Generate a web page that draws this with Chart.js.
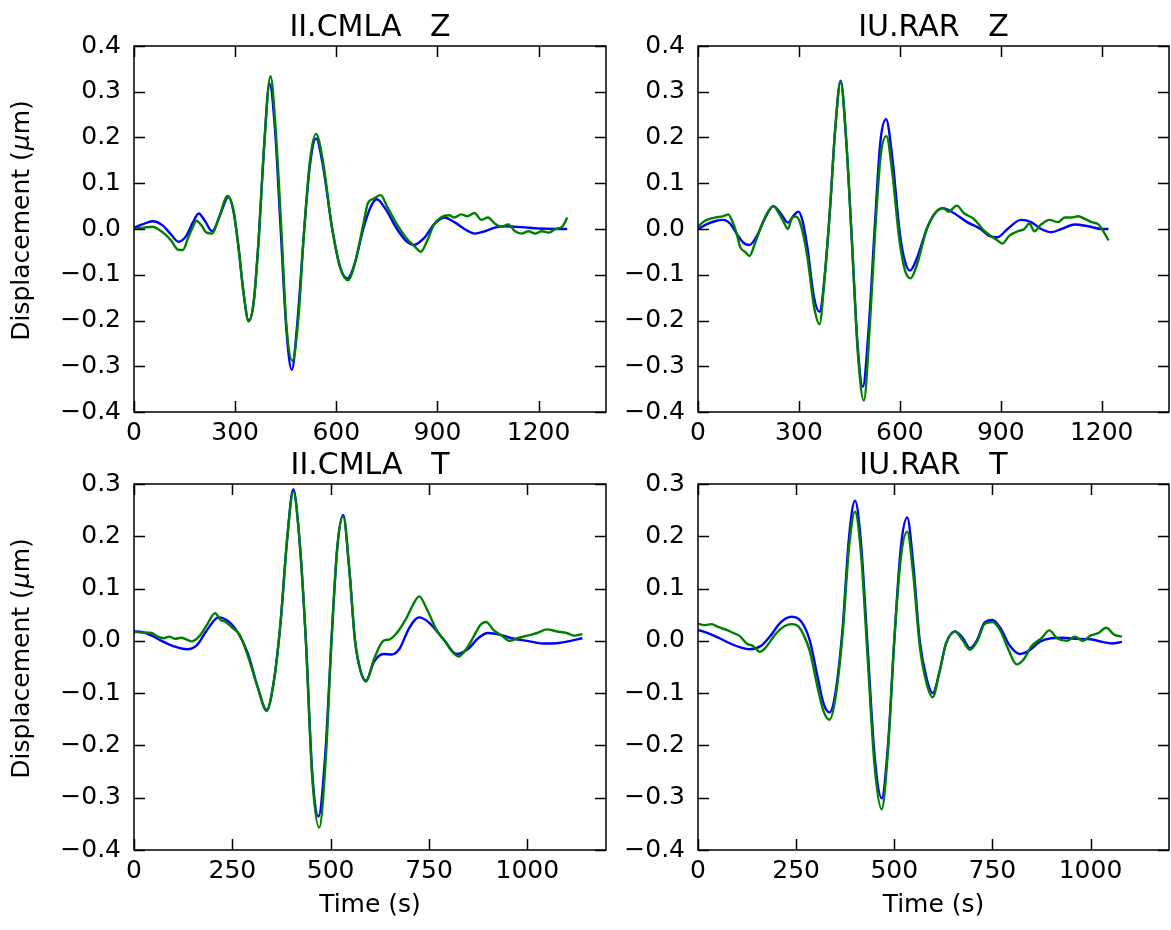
<!DOCTYPE html>
<html><head><meta charset="utf-8">
<script src="https://cdn.jsdelivr.net/npm/chart.js@4"></script>
<style>
html,body{margin:0;padding:0;background:#fff;}
#wrap{position:relative;width:1171px;height:930px;overflow:hidden;background:#fff;}
canvas{position:absolute;}
</style></head><body>
<div id="wrap">
<canvas id="c1" width="640" height="470" style="left:0;top:0"></canvas>
<canvas id="c2" width="581" height="470" style="left:590px;top:0"></canvas>
<canvas id="c3" width="640" height="490" style="left:0;top:440px"></canvas>
<canvas id="c4" width="581" height="490" style="left:590px;top:440px"></canvas>
</div>
<script>
// ---------- tick labels & texts ----------
const xTicksTop = [0, 300, 600, 900, 1200];
const xTicksBottom = [0, 250, 500, 750, 1000];
const yTicksTop = [-0.4, -0.3, -0.2, -0.1, 0.0, 0.1, 0.2, 0.3, 0.4];
const yTicksBottom = [-0.4, -0.3, -0.2, -0.1, 0.0, 0.1, 0.2, 0.3];
const titles = ['II.CMLA   Z', 'IU.RAR   Z', 'II.CMLA   T', 'IU.RAR   T'];
const yLabelParts = ['Displacement (', '\u03bc', 'm)'];
const xLabel = 'Time (s)';

// ---------- II.CMLA Z ----------
const cmlaZ_synT = [0,25,55,85,110,132,155,175,192,210,232,255,280,295,310,325,340,355,370,385,402,418,435,452,468,485,505,522,540,560,588,612,633,655,680,700,720,745,780,810,830,860,890,920,950,980,1010,1040,1070,1100,1150,1200,1250,1285];
const cmlaZ_syn  = [0.003,0.01,0.017,0.008,-0.012,-0.028,-0.015,0.015,0.034,0.018,-0.005,0.03,0.07,0.04,-0.04,-0.14,-0.2,-0.16,-0.02,0.17,0.318,0.22,0.0,-0.22,-0.308,-0.2,0.0,0.14,0.198,0.14,0.0,-0.085,-0.108,-0.075,0.0,0.045,0.065,0.045,0.0,-0.028,-0.035,-0.02,0.01,0.025,0.015,0.0,-0.01,-0.005,0.003,0.006,0.004,0.001,0.0,0.0];
const cmlaZ_obsT = [0,30,55,75,90,110,130,145,160,175,185,200,215,232,250,278,295,310,325,340,355,370,385,405,420,437,452,470,487,505,522,540,560,588,612,635,655,680,694,710,732,750,780,810,835,850,870,890,910,935,950,970,990,1010,1030,1050,1070,1090,1110,1130,1150,1170,1190,1210,1230,1250,1270,1285];
const cmlaZ_obs  = [0.0,0.003,0.005,-0.002,-0.01,-0.025,-0.045,-0.046,-0.02,0.005,0.018,0.008,-0.008,-0.01,0.02,0.072,0.04,-0.04,-0.14,-0.202,-0.16,-0.02,0.17,0.334,0.22,0.0,-0.21,-0.288,-0.2,0.0,0.15,0.208,0.15,0.0,-0.085,-0.112,-0.075,0.01,0.057,0.066,0.074,0.05,0.01,-0.022,-0.04,-0.05,-0.025,0.01,0.025,0.03,0.025,0.032,0.028,0.035,0.02,0.025,0.012,0.005,0.01,-0.005,-0.01,-0.005,-0.01,-0.005,-0.008,0.0,0.005,0.025];

// ---------- IU.RAR Z ----------
const rarZ_synT = [0,25,50,75,95,115,135,153,175,200,224,245,267,285,298,310,325,345,361,377,392,408,424,440,457,475,490,507,525,542,559,577,600,615,630,650,680,705,729,760,800,840,865,890,920,960,990,1020,1050,1080,1120,1160,1200,1220];
const rarZ_syn  = [0.0,0.01,0.017,0.02,0.012,-0.01,-0.03,-0.035,-0.015,0.025,0.05,0.035,0.014,0.03,0.038,0.02,-0.04,-0.15,-0.181,-0.1,0.04,0.22,0.324,0.2,-0.02,-0.26,-0.345,-0.22,0.0,0.19,0.24,0.16,-0.01,-0.07,-0.091,-0.065,0.0,0.035,0.045,0.035,0.015,0.0,-0.015,-0.018,0.0,0.02,0.015,0.0,-0.007,0.0,0.01,0.006,0.0,0.0];
const rarZ_obsT = [0,15,26,50,75,90,100,115,125,140,153,170,190,210,224,240,255,267,280,291,300,312,325,345,361,377,392,408,424,440,457,475,493,510,527,543,560,578,598,615,632,650,680,705,729,745,769,790,818,835,848,870,890,905,925,950,970,985,1000,1020,1045,1070,1090,1110,1130,1150,1170,1190,1205,1220];
const rarZ_obs  = [0.005,0.015,0.02,0.025,0.028,0.032,0.02,-0.01,-0.039,-0.05,-0.059,-0.03,0.01,0.04,0.05,0.035,0.015,0.0,0.025,0.027,0.02,-0.01,-0.06,-0.17,-0.208,-0.1,0.04,0.22,0.322,0.2,-0.02,-0.27,-0.375,-0.22,0.0,0.16,0.203,0.12,-0.02,-0.09,-0.108,-0.08,0.0,0.035,0.046,0.038,0.051,0.035,0.023,0.01,-0.002,-0.015,-0.025,-0.032,-0.015,-0.005,0.0,0.012,-0.005,0.01,0.02,0.015,0.025,0.025,0.028,0.022,0.015,0.01,-0.005,-0.025];

// ---------- II.CMLA T ----------
const cmlaT_synT = [0,20,45,70,100,134,160,185,215,244,265,290,315,337,355,372,390,405,420,437,453,469,486,502,517,532,547,562,577,590,610,635,655,675,700,725,750,790,820,850,875,900,930,960,1000,1040,1080,1110,1140];
const cmlaT_syn  = [0.018,0.017,0.01,0.0,-0.01,-0.016,-0.008,0.02,0.045,0.035,0.015,-0.025,-0.09,-0.132,-0.08,0.03,0.2,0.29,0.2,0.0,-0.25,-0.336,-0.22,0.0,0.18,0.241,0.14,0.0,-0.06,-0.076,-0.04,-0.025,-0.026,-0.015,0.025,0.045,0.035,0.0,-0.025,-0.015,0.005,0.015,0.012,0.005,0.0,-0.005,-0.004,0.0,0.005];
const cmlaT_obsT = [0,20,45,60,75,90,105,120,135,147,165,185,206,220,231,250,269,290,315,337,355,372,390,405,420,437,453,471,488,502,517,532,547,562,577,590,610,634,650,665,690,710,725,745,770,790,808,825,845,865,880,895,915,935,955,975,1000,1025,1050,1075,1100,1120,1140];
const cmlaT_obs  = [0.017,0.016,0.015,0.008,0.005,0.008,0.004,0.006,0.002,-0.001,0.008,0.03,0.053,0.04,0.037,0.025,0.011,-0.03,-0.09,-0.134,-0.08,0.03,0.2,0.285,0.2,0.0,-0.26,-0.357,-0.22,0.0,0.18,0.238,0.14,0.0,-0.06,-0.078,-0.035,0.0,0.003,0.012,0.04,0.07,0.085,0.06,0.02,0.0,-0.02,-0.03,-0.015,0.01,0.03,0.036,0.02,0.01,0.0,0.005,0.01,0.015,0.022,0.018,0.015,0.01,0.013];

// ---------- IU.RAR T ----------
const rarT_synT = [0,25,55,85,110,132,160,185,210,239,265,285,305,320,335,350,368,385,400,415,432,450,468,484,500,517,533,548,565,582,598,615,632,655,675,693,710,730,750,770,795,820,845,870,900,930,960,1000,1030,1055,1080];
const rarT_syn  = [0.021,0.015,0.005,-0.006,-0.013,-0.016,-0.01,0.01,0.035,0.046,0.035,0.0,-0.07,-0.12,-0.137,-0.1,0.02,0.2,0.268,0.19,-0.01,-0.22,-0.301,-0.2,0.0,0.18,0.236,0.15,0.0,-0.07,-0.1,-0.06,-0.005,0.018,0.005,-0.014,0.0,0.035,0.04,0.025,-0.01,-0.025,-0.018,-0.002,0.005,0.006,0.004,0.003,-0.002,-0.005,-0.002];
const rarT_obsT = [0,15,35,50,73,90,105,124,140,158,170,185,200,220,239,255,270,285,305,320,335,350,368,385,400,415,432,450,468,484,500,517,533,548,565,582,598,615,632,655,675,693,712,730,750,770,790,812,830,850,875,895,915,940,960,980,1000,1020,1040,1060,1080];
const rarT_obs  = [0.033,0.03,0.032,0.027,0.021,0.015,0.01,-0.005,-0.01,-0.021,-0.015,0.0,0.015,0.028,0.032,0.028,0.01,-0.02,-0.09,-0.135,-0.151,-0.11,0.01,0.18,0.247,0.17,-0.03,-0.24,-0.322,-0.21,0.0,0.16,0.209,0.13,-0.01,-0.08,-0.108,-0.06,-0.005,0.018,0.0,-0.017,0.0,0.032,0.036,0.02,-0.015,-0.045,-0.035,-0.01,0.005,0.02,0.005,0.0,0.008,0.0,0.01,0.015,0.025,0.012,0.008];

// ---------- drawing ----------
Chart.defaults.font.family = "'DejaVu Sans', sans-serif";
Chart.defaults.color = '#000';
const FONT = "'DejaVu Sans', sans-serif";

const TICK_LEN = 11;
const framePlugin = {
  id: 'frame',
  afterDraw(chart) {
    const {ctx, chartArea: a, scales} = chart;
    const x = scales.x, y = scales.y;
    ctx.save();
    ctx.strokeStyle = '#000';
    ctx.lineWidth = 1.5;
    ctx.beginPath();
    x.ticks.forEach(t => {
      const p = Math.round(x.getPixelForValue(t.value)) + 0.5;
      ctx.moveTo(p, a.bottom); ctx.lineTo(p, a.bottom - TICK_LEN);
      ctx.moveTo(p, a.top); ctx.lineTo(p, a.top + TICK_LEN);
    });
    y.ticks.forEach(t => {
      const p = Math.round(y.getPixelForValue(t.value)) + 0.5;
      ctx.moveTo(a.left, p); ctx.lineTo(a.left + TICK_LEN, p);
      ctx.moveTo(a.right, p); ctx.lineTo(a.right - TICK_LEN, p);
    });
    ctx.stroke();
    ctx.strokeRect(a.left, a.top, a.right - a.left, a.bottom - a.top);

    // y-axis label with italic mu, as in the original mathtext
    const yl = chart.options.plugins.frame && chart.options.plugins.frame.yLabel;
    if (yl) {
      const fonts = ['25px ' + FONT, 'italic 25px ' + FONT, '25px ' + FONT];
      let total = 0;
      const widths = yl.map((s, i) => { ctx.font = fonts[i]; const w = ctx.measureText(s).width; total += w; return w; });
      ctx.translate(22, (a.top + a.bottom) / 2 - 8);
      ctx.rotate(-Math.PI / 2);
      ctx.fillStyle = '#000';
      ctx.textBaseline = 'middle';
      ctx.textAlign = 'left';
      let pos = -total / 2;
      yl.forEach((s, i) => { ctx.font = fonts[i]; ctx.fillText(s, pos, 0); pos += widths[i] + (i === 0 ? 1 : 0); });
    }
    ctx.restore();
  }
};

function pts(ts, vs) { return ts.map((t, i) => ({x: t, y: vs[i]})); }
function fmtY(v) {
  const r = Math.round(v * 10) / 10;
  return (r < 0 ? '\u2212' : '') + Math.abs(r).toFixed(1);
}

function makePanel(id, cfg) {
  new Chart(document.getElementById(id), {
    type: 'line',
    data: {
      datasets: [
        // Chart.js paints the first dataset on top: observed (green) over synthetic (blue)
        {data: pts(cfg.obsT, cfg.obs), borderColor: '#008000', borderWidth: 2.4, pointRadius: 0, fill: false, cubicInterpolationMode: 'monotone'},
        {data: pts(cfg.synT, cfg.syn), borderColor: '#0000ff', borderWidth: 2.4, pointRadius: 0, fill: false, cubicInterpolationMode: 'monotone'}
      ]
    },
    options: {
      responsive: false,
      animation: false,
      events: [],
      layout: {padding: {left: 0, right: cfg.padRight, top: 0, bottom: 0}},
      plugins: {
        legend: {display: false},
        tooltip: {enabled: false},
        frame: {yLabel: cfg.yLabel || null},
        title: {display: true, text: cfg.title, fullSize: false, align: 'center', color: '#000',
                font: {size: 30, weight: 'normal', lineHeight: 1.2}, padding: {top: cfg.titleTop, bottom: 0}}
      },
      scales: {
        x: {
          type: 'linear', min: 0, max: cfg.xMax,
          afterBuildTicks: s => { s.ticks = cfg.xTicks.map(v => ({value: v})); },
          afterFit: s => { s.height = cfg.xHeight; },
          grid: {display: false, drawTicks: false},
          border: {display: false},
          ticks: {font: {size: 25}, color: '#000', padding: 6, autoSkip: false, maxRotation: 0,
                  callback: v => String(v)},
          title: {display: !!cfg.xTitle, text: cfg.xTitle || '', color: '#000', font: {size: 25, lineHeight: 1.2}, padding: {top: 0, bottom: 10}}
        },
        y: {
          type: 'linear', min: cfg.yMin, max: cfg.yMax,
          afterBuildTicks: s => { s.ticks = cfg.yTicks.map(v => ({value: v})); },
          afterFit: s => { s.width = cfg.yWidth; },
          grid: {display: false, drawTicks: false},
          border: {display: false},
          ticks: {font: {size: 25}, color: '#000', padding: 13, autoSkip: false, callback: v => fmtY(v)},
          title: {display: false}
        }
      }
    },
    plugins: [framePlugin]
  });
}

makePanel('c1', {title: titles[0], synT: cmlaZ_synT, syn: cmlaZ_syn, obsT: cmlaZ_obsT, obs: cmlaZ_obs,
  xMax: 1400, xTicks: xTicksTop, yMin: -0.4, yMax: 0.4, yTicks: yTicksTop,
  padRight: 34, yWidth: 134, xHeight: 58, titleTop: 10, yLabel: yLabelParts});
makePanel('c2', {title: titles[1], synT: rarZ_synT, syn: rarZ_syn, obsT: rarZ_obsT, obs: rarZ_obs,
  xMax: 1400, xTicks: xTicksTop, yMin: -0.4, yMax: 0.4, yTicks: yTicksTop,
  padRight: 2, yWidth: 108, xHeight: 58, titleTop: 10});
makePanel('c3', {title: titles[2], synT: cmlaT_synT, syn: cmlaT_syn, obsT: cmlaT_obsT, obs: cmlaT_obs,
  xMax: 1200, xTicks: xTicksBottom, yMin: -0.4, yMax: 0.3, yTicks: yTicksBottom,
  padRight: 34, yWidth: 134, xHeight: 80, titleTop: 8, yLabel: yLabelParts, xTitle: xLabel});
makePanel('c4', {title: titles[3], synT: rarT_synT, syn: rarT_syn, obsT: rarT_obsT, obs: rarT_obs,
  xMax: 1200, xTicks: xTicksBottom, yMin: -0.4, yMax: 0.3, yTicks: yTicksBottom,
  padRight: 2, yWidth: 108, xHeight: 80, titleTop: 8, xTitle: xLabel});
</script>
</body></html>
